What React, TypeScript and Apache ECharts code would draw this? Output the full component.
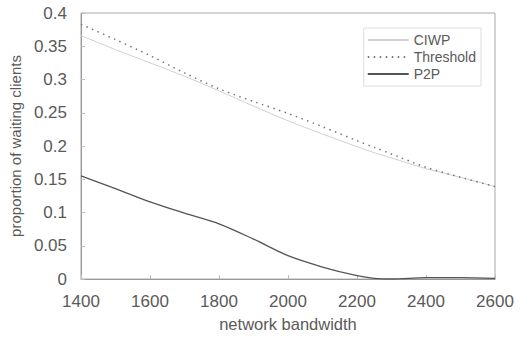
import React, { useEffect, useRef } from "react";
import * as echarts from "echarts";

const bandwidth = [1400, 1500, 1600, 1700, 1800, 1900, 2000, 2100, 2200, 2250, 2300, 2400, 2500, 2600];
const ciwp = [0.366, 0.345, 0.325, 0.305, 0.283, 0.26, 0.238, 0.218, 0.199, 0.19, 0.182, 0.166, 0.153, 0.139];
const threshold = [0.383, 0.36, 0.336, 0.31, 0.286, 0.267, 0.249, 0.229, 0.208, 0.198, 0.188, 0.168, 0.153, 0.139];
const p2p = [0.155, 0.136, 0.116, 0.099, 0.083, 0.06, 0.035, 0.018, 0.005, 0.001, 0.0, 0.002, 0.002, 0.001];

const FONT = "Liberation Sans";
const TEXT = "#5a5a5a";

export default function App() {
  const ref = useRef<HTMLDivElement>(null);
  useEffect(() => {
    if (!ref.current) return;
    const chart = echarts.init(ref.current, undefined, { renderer: "svg" });
    const pair = (arr: number[]) => bandwidth.map((b, i) => [b, arr[i]]);
    chart.setOption({
      animation: false,
      backgroundColor: "#fff",
      textStyle: { fontFamily: FONT, color: TEXT },
      grid: { left: 77, right: 29, top: 13, bottom: 54, show: true, borderColor: "#aaa", borderWidth: 1 },
      legend: {
        orient: "vertical",
        right: 43,
        top: 28,
        padding: [5, 5, 5, 3],
        borderColor: "#ddd",
        borderWidth: 1,
        itemWidth: 41,
        itemHeight: 12,
        itemGap: 3,
        itemStyle: { opacity: 0 },
        textStyle: { fontFamily: FONT, color: TEXT, fontSize: 14 },
        data: ["CIWP", "Threshold", "P2P"],
      },
      xAxis: {
        type: "value",
        min: 1400,
        max: 2600,
        interval: 200,
        name: "network bandwidth",
        nameLocation: "middle",
        nameGap: 36,
        nameTextStyle: { fontFamily: FONT, color: TEXT, fontSize: 16.5 },
        axisLine: { lineStyle: { color: "#999" } },
        axisTick: { inside: true, length: 4, lineStyle: { color: "#bbb" } },
        axisLabel: { fontFamily: FONT, color: TEXT, fontSize: 17, margin: 14, formatter: (v: number) => String(v) },
        splitLine: { show: false },
      },
      yAxis: {
        type: "value",
        min: 0,
        max: 0.4,
        interval: 0.05,
        name: "proportion of waiting clients",
        nameLocation: "middle",
        nameGap: 49,
        nameTextStyle: { fontFamily: FONT, color: TEXT, fontSize: 15 },
        axisLine: { show: true, lineStyle: { color: "#999" } },
        axisTick: { show: true, inside: true, length: 4, lineStyle: { color: "#bbb" } },
        axisLabel: { fontFamily: FONT, color: TEXT, fontSize: 17, margin: 14 },
        splitLine: { show: false },
      },
      series: [
        {
          name: "CIWP",
          type: "line",
          data: pair(ciwp),
          symbol: "none",
          smooth: 0.3,
          lineStyle: { color: "#d0d0d0", width: 1 },
          itemStyle: { color: "#d0d0d0" },
        },
        {
          name: "Threshold",
          type: "line",
          data: pair(threshold),
          symbol: "none",
          smooth: 0.3,
          lineStyle: { color: "#777", width: 1.5, type: [1.5, 4.5] },
          itemStyle: { color: "#777" },
        },
        {
          name: "P2P",
          type: "line",
          data: pair(p2p),
          symbol: "none",
          smooth: 0.3,
          lineStyle: { color: "#555", width: 1.3 },
          itemStyle: { color: "#555" },
        },
      ],
    });
    return () => chart.dispose();
  }, []);
  return <div ref={ref} style={{ width: 524, height: 337, position: "absolute", left: 0, top: 0 }} />;
}
